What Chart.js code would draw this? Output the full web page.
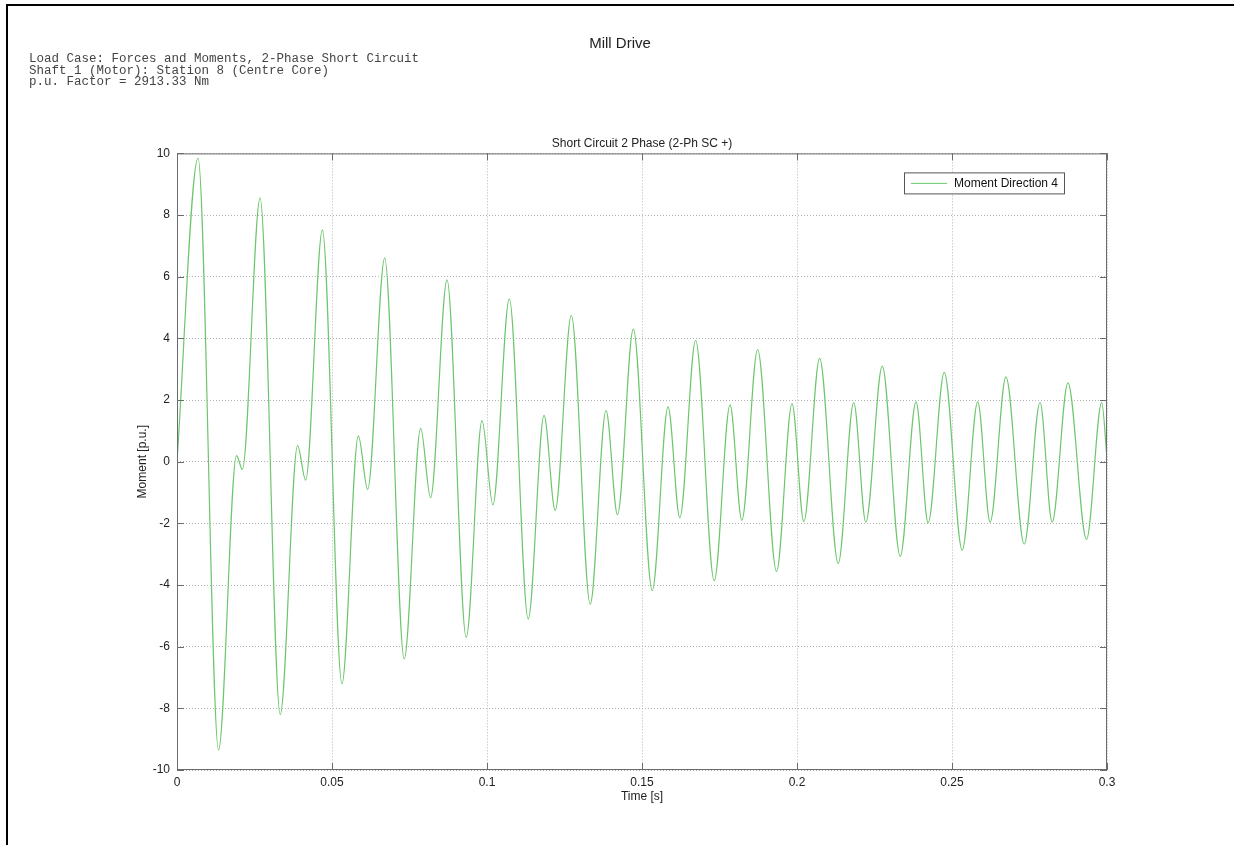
<!DOCTYPE html>
<html lang="en">
<head>
    <meta charset="UTF-8">
    <title>Mill Drive</title>
    <script src="https://cdn.jsdelivr.net/npm/chart.js@4.4.1/dist/chart.umd.min.js"></script>
    <style>
        body{
            margin: 0;
            background-color: #fff;
            overflow: hidden;
        }
        .frame{
            position: absolute;
            left: 6px;
            top: 4px;
            width: 1400px;
            height: 1000px;
            border-top: 2px solid #000;
            border-left: 2px solid #000;
        }
        .head{
            position: absolute;
            left: 29px;
            top: 54px;
            font-family: "Liberation Mono", monospace;
            font-size: 12.5px;
            line-height: 11.5px;
            color: #444;
            white-space: pre;
        }
        .figTitle{
            position: absolute;
            left: 0;
            width: 1240px;
            top: 34px;
            text-align: center;
            font-family: "Liberation Sans", Arial, sans-serif;
            font-size: 15px;
            color: #222;
        }
        #myChart{
            position: absolute;
            left: 0;
            top: 0;
        }
    </style>
</head>
<body>
    <div class="frame"></div>
    <canvas id="myChart" width="1234" height="845"></canvas>
    <div class="figTitle">Mill Drive</div>
    <div class="head">Load Case: Forces and Moments, 2-Phase Short Circuit
Shaft 1 (Motor): Station 8 (Centre Core)
p.u. Factor = 2913.33 Nm</div>
    <script>
        // values (turning points of the trace)
        const time = [0, 0.0068, 0.0134, 0.0192, 0.0211, 0.0268, 0.0333, 0.0389, 0.0415, 0.0469,
            0.0532, 0.0585, 0.0615, 0.0670, 0.0733, 0.0786, 0.0818, 0.0871, 0.0933, 0.0984,
            0.1019, 0.1072, 0.1133, 0.1184, 0.1220, 0.1272, 0.1333, 0.1384, 0.1421, 0.1472,
            0.1533, 0.1584, 0.1622, 0.1673, 0.1733, 0.1784, 0.1822, 0.1873, 0.1934, 0.1984,
            0.2022, 0.2073, 0.2133, 0.2183, 0.2222, 0.2275, 0.2333, 0.2384, 0.2423, 0.2475,
            0.2533, 0.2583, 0.2623, 0.2674, 0.2733, 0.2784, 0.2823, 0.2874, 0.2934, 0.2983, 0.3];
        const moment = [0, 9.85, -9.35, 0.2, -0.25, 8.55, -8.2, 0.52, -0.6, 7.52,
            -7.2, 0.84, -0.9, 6.6, -6.4, 1.08, -1.17, 5.9, -5.7, 1.33,
            -1.4, 5.28, -5.1, 1.5, -1.58, 4.75, -4.62, 1.66, -1.72, 4.3,
            -4.18, 1.78, -1.82, 3.94, -3.86, 1.84, -1.9, 3.64, -3.56, 1.88,
            -1.94, 3.35, -3.3, 1.92, -1.96, 3.1, -3.07, 1.94, -1.98, 2.9,
            -2.87, 1.94, -1.96, 2.75, -2.67, 1.92, -1.96, 2.56, -2.52, 1.92, 0.1];
        const xTicks = [0, 0.05, 0.1, 0.15, 0.2, 0.25, 0.3];
        const yTicks = [-10, -8, -6, -4, -2, 0, 2, 4, 6, 8, 10];
        const seriesName = 'Moment Direction 4';

        const lineColor = '#6cc66c';
        const axisColor = '#6b6b6b';
        const font = "'Liberation Sans', Arial, sans-serif";

        const points = time.map((t, i) => ({x: t, y: moment[i]}));

        // box, inner ticks and legend like the matlab figure
        const boxPlugin = {
            id: 'boxPlugin',
            afterDraw(chart) {
                const ctx = chart.ctx;
                const a = chart.chartArea;
                const xs = chart.scales.x, ys = chart.scales.y;
                ctx.save();
                ctx.strokeStyle = axisColor;
                ctx.lineWidth = 1;
                ctx.strokeRect(a.left + 0.5, a.top + 0.5, a.right - a.left - 1, a.bottom - a.top - 1);
                ctx.beginPath();
                xTicks.forEach(v => {
                    const px = Math.round(xs.getPixelForValue(v)) + 0.5;
                    ctx.moveTo(px, a.bottom); ctx.lineTo(px, a.bottom - 7);
                    ctx.moveTo(px, a.top); ctx.lineTo(px, a.top + 7);
                });
                yTicks.forEach(v => {
                    const py = Math.round(ys.getPixelForValue(v)) + 0.5;
                    ctx.moveTo(a.left, py); ctx.lineTo(a.left + 7, py);
                    ctx.moveTo(a.right, py); ctx.lineTo(a.right - 7, py);
                });
                ctx.stroke();

                // legend
                ctx.font = '12px ' + font;
                const tw = ctx.measureText(seriesName).width;
                const w = 50 + tw + 6, h = 21;
                const right = a.right - 43, top = a.top + 19;
                const left = right - w;
                ctx.fillStyle = '#fff';
                ctx.fillRect(left, top, w, h);
                ctx.strokeStyle = '#555';
                ctx.strokeRect(Math.round(left) + 0.5, top + 0.5, Math.round(w), h);
                ctx.strokeStyle = lineColor;
                ctx.beginPath();
                ctx.moveTo(left + 7, top + h / 2 + 0.5);
                ctx.lineTo(left + 43, top + h / 2 + 0.5);
                ctx.stroke();
                ctx.fillStyle = '#111';
                ctx.textBaseline = 'middle';
                ctx.fillText(seriesName, left + 50, top + h / 2 + 1);
                ctx.restore();
            }
        };

        new Chart(document.getElementById('myChart'), {
            type: 'scatter',
            data: {
                datasets: [{
                    label: seriesName,
                    data: points,
                    showLine: true,
                    borderColor: lineColor,
                    borderWidth: 1.2,
                    pointRadius: 0,
                    cubicInterpolationMode: 'monotone'
                }]
            },
            options: {
                responsive: false,
                animation: false,
                layout: {
                    padding: {left: 117, top: 136, right: 127, bottom: 35}
                },
                plugins: {
                    legend: {display: false},
                    tooltip: {enabled: false},
                    title: {
                        display: true,
                        text: 'Short Circuit 2 Phase (2-Ph SC +)',
                        fullSize: false,
                        color: '#222',
                        font: {family: font, size: 12, weight: 'normal'},
                        padding: {top: 0, bottom: 3}
                    }
                },
                scales: {
                    x: {
                        type: 'linear',
                        min: 0,
                        max: 0.3,
                        afterBuildTicks: s => { s.ticks = xTicks.map(v => ({value: v})); },
                        afterFit: s => { s.height = 40; },
                        ticks: {
                            color: '#222',
                            font: {family: font, size: 12},
                            padding: 5,
                            maxRotation: 0,
                            callback: v => String(v)
                        },
                        grid: {color: '#b4b4b4', drawTicks: false},
                        border: {display: false, dash: [1, 2]},
                        title: {
                            display: true,
                            text: 'Time [s]',
                            color: '#222',
                            font: {family: font, size: 12},
                            padding: {top: 0, bottom: 6}
                        }
                    },
                    y: {
                        type: 'linear',
                        min: -10,
                        max: 10,
                        afterBuildTicks: s => { s.ticks = yTicks.map(v => ({value: v})); },
                        afterFit: s => { s.width = 60; },
                        ticks: {
                            color: '#222',
                            font: {family: font, size: 12},
                            padding: 7
                        },
                        grid: {color: '#b4b4b4', drawTicks: false},
                        border: {display: false, dash: [1, 2]},
                        title: {
                            display: true,
                            text: 'Moment [p.u.]',
                            color: '#222',
                            font: {family: font, size: 12},
                            padding: {top: 18, bottom: 0}
                        }
                    }
                }
            },
            plugins: [boxPlugin]
        });
    </script>
</body>
</html>
